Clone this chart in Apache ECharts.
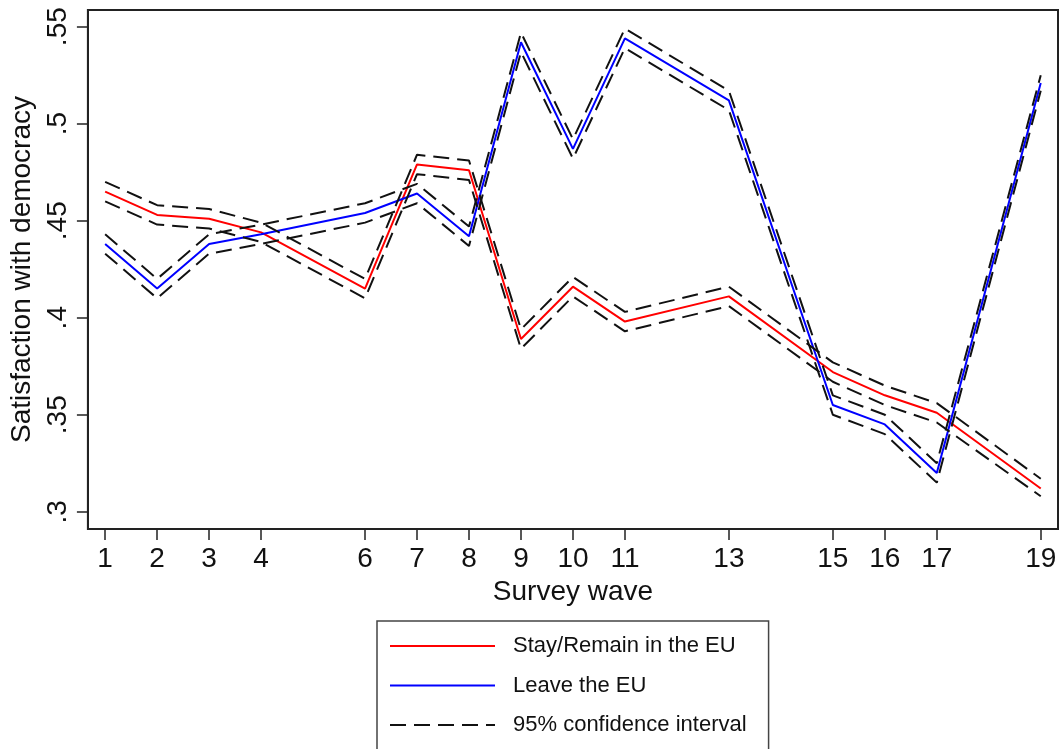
<!DOCTYPE html>
<html>
<head>
<meta charset="utf-8">
<script src="https://cdn.jsdelivr.net/npm/echarts@6/dist/echarts.min.js"></script>
<style>
html,body{margin:0;padding:0;background:#fff;}
#chart{width:1063px;height:749px;}
</style>
</head>
<body>
<div id="chart"></div>
<script>
const waves = [1, 2, 3, 4, 6, 7, 8, 9, 10, 11, 13, 15, 16, 17, 19];
const xTicks = [1, 2, 3, 4, 6, 7, 8, 9, 10, 11, 13, 15, 16, 17, 19];
const yTicks = [0.3, 0.35, 0.4, 0.45, 0.5, 0.55];
const yTickLabels = ['.3', '.35', '.4', '.45', '.5', '.55'];

const stay      = [0.465, 0.453, 0.451, 0.444, 0.415, 0.479, 0.476, 0.389, 0.416, 0.398, 0.411, 0.372, 0.360, 0.351, 0.312];
const stayUpper = [0.470, 0.458, 0.456, 0.449, 0.420, 0.484, 0.481, 0.394, 0.421, 0.403, 0.416, 0.377, 0.365, 0.356, 0.317];
const stayLower = [0.460, 0.448, 0.446, 0.439, 0.410, 0.474, 0.471, 0.384, 0.411, 0.393, 0.406, 0.367, 0.355, 0.346, 0.308];

const leave      = [0.438, 0.415, 0.438, 0.443, 0.454, 0.464, 0.442, 0.542, 0.487, 0.544, 0.512, 0.355, 0.345, 0.320, 0.521];
const leaveUpper = [0.443, 0.420, 0.443, 0.448, 0.459, 0.469, 0.447, 0.547, 0.492, 0.549, 0.517, 0.360, 0.350, 0.325, 0.525];
const leaveLower = [0.433, 0.410, 0.433, 0.438, 0.449, 0.459, 0.437, 0.537, 0.482, 0.539, 0.507, 0.350, 0.340, 0.315, 0.517];

const nameStay = 'Stay/Remain in the EU';
const nameLeave = 'Leave the EU';
const nameCI = '95% confidence interval';

const pair = (ys) => waves.map((w, i) => [w, ys[i]]);
const FONT = '"Liberation Sans", Arial, sans-serif';

function solid(name, color, ys) {
  return { name, type: 'line', data: pair(ys), symbol: 'none', showSymbol: false,
    lineStyle: { color, width: 2 }, itemStyle: { color }, z: 3 };
}
function dashed(ys) {
  return { name: nameCI, type: 'line', data: pair(ys), symbol: 'none', showSymbol: false,
    lineStyle: { color: '#111', width: 2, type: [16, 8] }, itemStyle: { color: '#111' }, z: 4 };
}

const chart = echarts.init(document.getElementById('chart'), null, { renderer: 'canvas' });
chart.setOption({
  animation: false,
  backgroundColor: '#fff',
  textStyle: { fontFamily: FONT },
  grid: { left: 86, right: 5, top: 10, bottom: 220, show: true, borderColor: '#222', borderWidth: 2, backgroundColor: '#fff' },
  xAxis: {
    type: 'value', min: 0.668, max: 19.332,
    name: 'Survey wave', nameLocation: 'middle', nameGap: 45,
    nameTextStyle: { fontSize: 28, color: '#111', fontFamily: FONT },
    axisLine: { show: true, onZero: false, lineStyle: { color: '#222', width: 2 } },
    axisTick: { show: true, length: 11, customValues: xTicks, lineStyle: { color: '#222', width: 1.5 } },
    axisLabel: { customValues: xTicks, fontSize: 28, color: '#111', margin: 16, fontFamily: FONT,
      formatter: v => String(Math.round(v)) },
    splitLine: { show: false }
  },
  yAxis: {
    type: 'value', min: 0.2911, max: 0.5586,
    name: 'Satisfaction with democracy', nameLocation: 'middle', nameGap: 37, nameRotate: 90,
    nameTextStyle: { fontSize: 28, color: '#111', fontFamily: FONT },
    axisLine: { show: true, onZero: false, lineStyle: { color: '#222', width: 2 } },
    axisTick: { show: true, length: 11, customValues: yTicks, lineStyle: { color: '#222', width: 1.5 } },
    axisLabel: { customValues: yTicks, fontSize: 28, color: '#111', margin: 16, rotate: 90,
      align: 'center', verticalAlign: 'bottom', fontFamily: FONT,
      formatter: v => { const i = yTicks.findIndex(t => Math.abs(t - v) < 1e-6); return i >= 0 ? yTickLabels[i] : ''; } },
    splitLine: { show: false }
  },
  legend: {
    data: [nameStay, nameLeave, nameCI],
    orient: 'vertical', left: 377, top: 621, height: 300,
    padding: [12, 22, 40, 12],
    itemWidth: 105, itemHeight: 26, itemGap: 13.5,
    borderColor: '#444', borderWidth: 1.5, backgroundColor: '#fff',
    itemStyle: { opacity: 0 },
    textStyle: { fontSize: 22, color: '#111', lineHeight: 26, padding: [0, 0, 0, 13], fontFamily: FONT }
  },
  series: [
    solid(nameStay, '#ff0000', stay),
    solid(nameLeave, '#0000ff', leave),
    dashed(stayUpper), dashed(stayLower), dashed(leaveUpper), dashed(leaveLower)
  ]
});
</script>
</body>
</html>
